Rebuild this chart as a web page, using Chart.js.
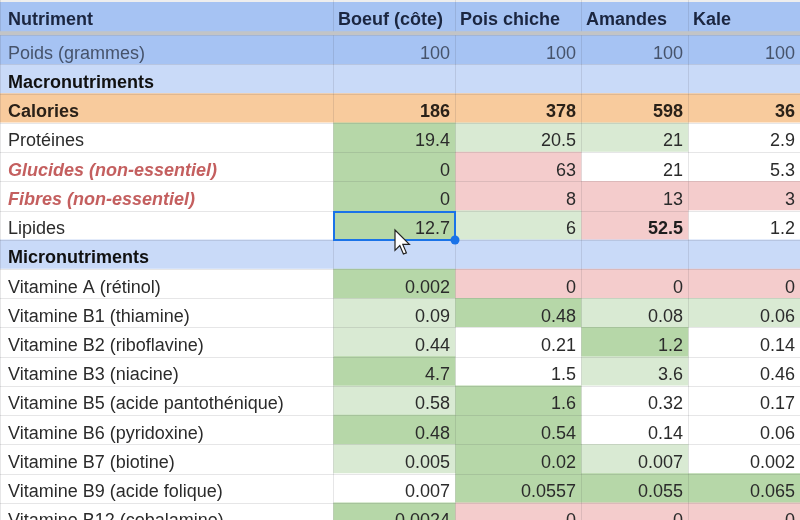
<!DOCTYPE html>
<html>
<head>
<meta charset="utf-8">
<script src="https://cdn.jsdelivr.net/npm/chart.js@4"></script>
<style>
  html, body { margin: 0; padding: 0; background: #fff; overflow: hidden; }
  #wrap { width: 800px; height: 520px; overflow: hidden; }
</style>
</head>
<body>
<div id="wrap"><canvas id="nutri-table" width="800" height="532"></canvas></div>
<script>
const CTX = document.getElementById('nutri-table');

const headers = ['Nutriment', 'Boeuf (côte)', 'Pois chiche', 'Amandes', 'Kale'];
const nutrients = [
  'Poids (grammes)', 'Macronutriments', 'Calories', 'Protéines',
  'Glucides (non-essentiel)', 'Fibres (non-essentiel)', 'Lipides', 'Micronutriments',
  'Vitamine A (rétinol)', 'Vitamine B1 (thiamine)', 'Vitamine B2 (riboflavine)',
  'Vitamine B3 (niacine)', 'Vitamine B5 (acide pantothénique)', 'Vitamine B6 (pyridoxine)',
  'Vitamine B7 (biotine)', 'Vitamine B9 (acide folique)', 'Vitamine B12 (cobalamine)'
];
const boeuf      = [100, null, 186, 19.4, 0, 0, 12.7, null, 0.002, 0.09, 0.44, 4.7, 0.58, 0.48, 0.005, 0.007, 0.0024];
const poisChiche = [100, null, 378, 20.5, 63, 8, 6, null, 0, 0.48, 0.21, 1.5, 1.6, 0.54, 0.02, 0.0557, 0];
const amandes    = [100, null, 598, 21, 21, 13, 52.5, null, 0, 0.08, 1.2, 3.6, 0.32, 0.14, 0.007, 0.055, 0];
const kale       = [100, null, 36, 2.9, 5.3, 3, 1.2, null, 0, 0.06, 0.14, 0.46, 0.17, 0.06, 0.002, 0.065, 0];
const values = [boeuf, poisChiche, amandes, kale];

// conditional formatting seen in the sheet (g = green, l = light green, r = red)
const boeufFmt   = ['', '', '', 'g', 'g', 'g', 'g', '', 'g', 'l', 'l', 'g', 'l', 'g', 'l', '', 'g'];
const poisFmt    = ['', '', '', 'l', 'r', 'r', 'l', '', 'r', 'g', '', '', 'g', 'g', 'g', 'g', 'r'];
const amandesFmt = ['', '', '', 'l', '', 'r', 'r', '', 'r', 'l', 'g', 'l', '', '', 'l', 'g', 'r'];
const kaleFmt    = ['', '', '', '', '', 'r', '', '', 'r', 'l', '', '', '', '', '', 'g', 'r'];
const formats = [boeufFmt, poisFmt, amandesFmt, kaleFmt];

// layout of the sheet
const colWidths = [333, 122, 126, 107, 112];
const FILL = { g: '#b6d7a8', l: '#d9ead3', r: '#f4cccc', '': '#ffffff' };
const HEAD_BG = '#a6c3f3';
const SECTION_BG = '#c9daf8';
const CAL_BG = '#f8cb9d';
const sections = ['Macronutriments', 'Micronutriments'];
const redRows = ['Glucides (non-essentiel)', 'Fibres (non-essentiel)'];

const rows = [headers[0], ...nutrients];

function cellColor(c, i) {
  if (i === 0) return HEAD_BG;
  const name = nutrients[i - 1];
  if (name === 'Poids (grammes)') return HEAD_BG;
  if (sections.includes(name)) return SECTION_BG;
  if (name === 'Calories') return CAL_BG;
  if (c === 0) return '#ffffff';
  return FILL[formats[c - 1][i - 1]];
}

const FONT = '"Liberation Sans", Arial, sans-serif';

const tablePlugin = {
  id: 'tableText',
  beforeDatasetsDraw(chart) {
    const ctx = chart.ctx;
    const top = chart.chartArea.top;
    ctx.save();
    ctx.fillStyle = '#ffffff';
    ctx.fillRect(0, 0, chart.width, chart.height);
    ctx.fillStyle = '#eeeeee';
    ctx.fillRect(0, 0, chart.width, 2);
    ctx.fillStyle = HEAD_BG;
    ctx.fillRect(0, 2, chart.width, top - 2);
    ctx.restore();
  },
  afterDatasetsDraw(chart) {
    const ctx = chart.ctx;
    ctx.save();
    const first = chart.getDatasetMeta(0).data;

    // horizontal grid lines
    ctx.strokeStyle = 'rgba(60,64,67,0.13)';
    ctx.lineWidth = 1;
    first.forEach((el) => {
      const yb = Math.round(el.y + el.height / 2) + 0.5;
      ctx.beginPath(); ctx.moveTo(0, yb); ctx.lineTo(chart.width, yb); ctx.stroke();
    });
    // vertical grid lines
    chart.data.datasets.forEach((ds, c) => {
      const el = chart.getDatasetMeta(c).data[0];
      const xl = Math.round(el.base) + 0.5;
      ctx.beginPath(); ctx.moveTo(xl, 0); ctx.lineTo(xl, chart.height); ctx.stroke();
    });

    // frozen row separator
    const h = first[0];
    const hb = h.y + h.height / 2;
    ctx.fillStyle = '#c2c4c6';
    ctx.fillRect(0, hb - 4, chart.width, 4);

    // texts
    ctx.textBaseline = 'middle';
    chart.data.datasets.forEach((ds, c) => {
      const meta = chart.getDatasetMeta(c);
      meta.data.forEach((el, i) => {
        let text, weight = '', style = '', color = '#2b2b2b', align = 'right', x = el.x - 5;
        let y = el.y + 4;
        if (i === 0) {
          text = headers[c];
          weight = 'bold';
          color = '#1b2640';
          align = 'left';
          x = el.base + (c === 0 ? 8 : 5);
          y = el.y - 1;
        } else {
          const name = nutrients[i - 1];
          if (c === 0) {
            text = name;
            align = 'left';
            x = el.base + 8;
          } else {
            const v = values[c - 1][i - 1];
            text = v === null ? '' : String(v);
          }
          if (name === 'Poids (grammes)') color = '#46536b';
          if (sections.includes(name)) { weight = 'bold'; color = '#111111'; }
          if (name === 'Calories') { weight = 'bold'; color = '#2a2118'; }
          if (c === 0 && redRows.includes(name)) { weight = 'bold'; style = 'italic'; color = '#c45f5f'; }
          if (c === 3 && name === 'Lipides') { weight = 'bold'; color = '#1e1e1e'; }
        }
        if (!text) return;
        ctx.font = `${style} ${weight} 18px ${FONT}`;
        ctx.fillStyle = color;
        ctx.textAlign = align;
        ctx.fillText(text, x, y);
      });
    });

    // selected cell: Lipides / Boeuf
    const sel = chart.getDatasetMeta(1).data[nutrients.indexOf('Lipides') + 1];
    const st = Math.round(sel.y - sel.height / 2);
    const sb = Math.round(sel.y + sel.height / 2);
    const sl = Math.round(sel.base), sr = Math.round(sel.x);
    ctx.strokeStyle = '#1a73e8';
    ctx.lineWidth = 2;
    ctx.strokeRect(sl + 1, st + 1, sr - sl - 1, sb - st - 1);
    ctx.fillStyle = '#1a73e8';
    ctx.beginPath(); ctx.arc(sr, sb, 4.5, 0, Math.PI * 2); ctx.fill();

    // mouse pointer
    const tx = sl + 62, ty = st + 19;
    const k = 1.2;
    const pts = [[0, 0], [0, 17], [4, 13], [7, 20], [9.5, 19], [6.5, 12], [12, 12]];
    ctx.beginPath();
    pts.forEach(([px, py], n) => {
      const X = tx + px * k, Y = ty + py * k;
      if (n === 0) ctx.moveTo(X, Y); else ctx.lineTo(X, Y);
    });
    ctx.closePath();
    ctx.fillStyle = '#ffffff';
    ctx.fill();
    ctx.strokeStyle = '#222222';
    ctx.lineWidth = 1.2;
    ctx.stroke();
    ctx.restore();
  }
};

new Chart(CTX, {
  type: 'bar',
  data: {
    labels: rows,
    datasets: headers.map((hd, c) => ({
      label: hd,
      data: rows.map(() => colWidths[c]),
      backgroundColor: rows.map((r, i) => cellColor(c, i)),
      borderWidth: 0,
      barPercentage: 1,
      categoryPercentage: 1,
      stack: 'sheet'
    }))
  },
  options: {
    indexAxis: 'y',
    responsive: false,
    animation: false,
    devicePixelRatio: 1,
    layout: { padding: { top: 6, left: 0, right: 0, bottom: 0 } },
    plugins: { legend: { display: false }, tooltip: { enabled: false } },
    scales: {
      x: { type: 'linear', stacked: true, min: 0, max: 800, display: false },
      y: { stacked: true, display: false }
    }
  },
  plugins: [tablePlugin]
});
</script>
</body>
</html>
